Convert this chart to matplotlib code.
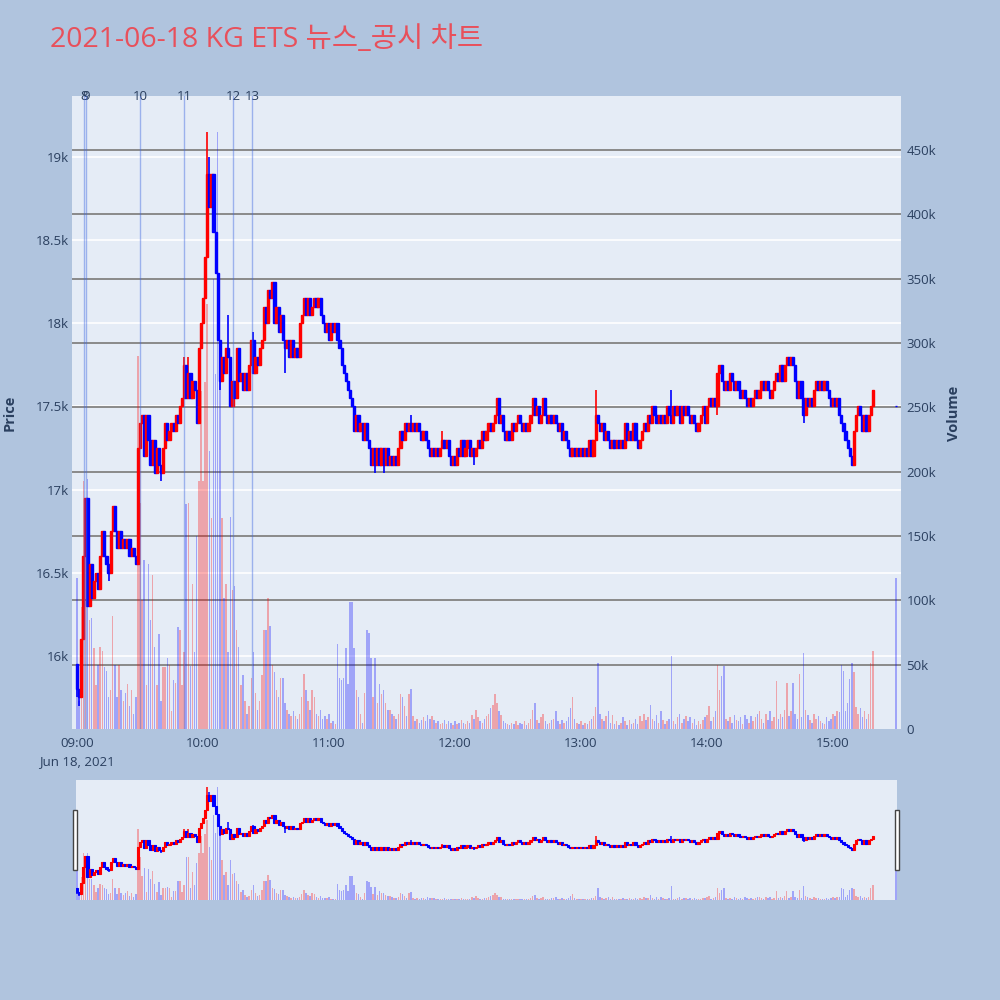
import matplotlib
matplotlib.use("Agg")
import matplotlib.pyplot as plt
from matplotlib.patches import Rectangle
from matplotlib.transforms import blended_transform_factory

plt.rcParams['font.family'] = ['Open Sans', 'Noto Sans CJK KR', 'DejaVu Sans']

title = "2021-06-18 KG ETS 뉴스_공시 차트"

# minutes after 09:00, one candle per minute, plus the 15:30 closing auction
minutes = list(range(380)) + [390]
first_open = 15950
closes = [
    15800, 15750, 16100, 16600, 16950, 16300, 16550, 16350, 16450, 16500,
    16400, 16600, 16750, 16600, 16550, 16500, 16750, 16900, 16750, 16650,
    16750, 16650, 16700, 16650, 16700, 16600, 16650, 16600, 16550, 17250,
    17400, 17450, 17200, 17450, 17300, 17150, 17300, 17100, 17250, 17150,
    17100, 17250, 17400, 17300, 17350, 17400, 17350, 17450, 17400, 17500,
    17550, 17750, 17550, 17700, 17550, 17650, 17600, 17400, 17850, 18000,
    18150, 18400, 18900, 18700, 18900, 18550, 18300, 17900, 17650, 17800,
    17700, 17850, 17800, 17500, 17650, 17550, 17850, 17650, 17700, 17600,
    17700, 17600, 17750, 17900, 17700, 17800, 17750, 17850, 17900, 18100,
    18000, 18200, 18150, 18250, 18000, 18100, 17950, 18050, 17900, 17850,
    17900, 17800, 17900, 17800, 17850, 17800, 18000, 18050, 18150, 18050,
    18150, 18050, 18100, 18150, 18100, 18150, 18050, 18000, 17950, 18000,
    17900, 18000, 17950, 18000, 17900, 17850, 17750, 17700, 17650, 17600,
    17550, 17500, 17350, 17450, 17350, 17400, 17300, 17400, 17300, 17250,
    17150, 17250, 17150, 17250, 17150, 17250, 17150, 17250, 17150, 17200,
    17150, 17200, 17150, 17250, 17350, 17300, 17400, 17350, 17400, 17350,
    17400, 17350, 17400, 17350, 17300, 17350, 17300, 17250, 17200, 17250,
    17200, 17250, 17200, 17250, 17300, 17250, 17300, 17200, 17150, 17200,
    17150, 17250, 17200, 17300, 17200, 17250, 17300, 17200, 17250, 17200,
    17250, 17300, 17250, 17350, 17300, 17350, 17400, 17350, 17400, 17450,
    17550, 17400, 17450, 17350, 17300, 17350, 17300, 17400, 17350, 17400,
    17450, 17400, 17350, 17400, 17350, 17400, 17450, 17550, 17450, 17500,
    17400, 17450, 17550, 17450, 17400, 17450, 17400, 17450, 17400, 17350,
    17400, 17300, 17350, 17300, 17250, 17200, 17250, 17200, 17250, 17200,
    17250, 17200, 17250, 17200, 17300, 17200, 17300, 17450, 17400, 17350,
    17400, 17300, 17350, 17300, 17250, 17300, 17250, 17300, 17250, 17300,
    17250, 17400, 17300, 17350, 17300, 17400, 17300, 17250, 17300, 17350,
    17400, 17350, 17450, 17400, 17500, 17450, 17400, 17450, 17400, 17450,
    17400, 17500, 17450, 17400, 17500, 17450, 17500, 17400, 17500, 17450,
    17500, 17450, 17400, 17450, 17400, 17350, 17400, 17450, 17500, 17400,
    17500, 17550, 17500, 17550, 17500, 17700, 17750, 17650, 17600, 17650,
    17600, 17700, 17650, 17600, 17650, 17600, 17550, 17600, 17550, 17500,
    17550, 17500, 17550, 17600, 17550, 17600, 17650, 17600, 17650, 17600,
    17550, 17600, 17650, 17700, 17650, 17750, 17650, 17750, 17800, 17750,
    17800, 17750, 17650, 17550, 17650, 17550, 17450, 17550, 17500, 17550,
    17500, 17600, 17650, 17600, 17650, 17600, 17650, 17600, 17550, 17500,
    17550, 17500, 17550, 17450, 17400, 17350, 17300, 17250, 17200, 17150,
    17350, 17450, 17500, 17450, 17350, 17450, 17350, 17450, 17500, 17600,
    17500,
]
# opens that differ from the previous close
open_fix = {0: first_open, 380: 17500}
# wicks beyond the body (position in list -> price)
high_fix = {51: 17800, 53: 17800, 62: 19150, 63: 19000, 72: 18050, 84: 17950,
            159: 17450, 174: 17350, 247: 17600, 283: 17600}
low_fix = {0: 15750, 1: 15700, 15: 16450, 40: 17050, 68: 17600, 99: 17700,
           142: 17100, 146: 17100, 189: 17150, 305: 17450, 346: 17400}

# volume in thousands of shares
volume_k = [
    117, 22, 95, 193, 174, 194, 85, 86, 63, 34,
    50, 64, 61, 48, 45, 25, 30, 88, 50, 25,
    50, 30, 22, 28, 35, 18, 30, 12, 25, 290,
    176, 100, 131, 34, 128, 85, 120, 64, 34, 74,
    22, 48, 48, 55, 50, 14, 38, 36, 79, 77,
    34, 60, 175, 176, 49, 113, 60, 150, 193, 263,
    193, 270, 330, 216, 164, 350, 276, 464, 276, 164,
    102, 113, 60, 165, 108, 111, 77, 64, 34, 42,
    22, 12, 18, 40, 60, 28, 15, 22, 42, 77,
    77, 102, 80, 50, 44, 30, 25, 40, 40, 20,
    15, 12, 10, 14, 10, 8, 12, 25, 43, 30,
    22, 15, 30, 25, 12, 10, 15, 8, 10, 8,
    12, 5, 6, 4, 66, 40, 38, 40, 63, 35,
    99, 99, 63, 30, 25, 12, 5, 28, 77, 75,
    55, 25, 55, 20, 35, 27, 30, 20, 15, 15,
    12, 10, 8, 12, 27, 25, 18, 10, 27, 31,
    10, 6, 8, 5, 7, 9, 6, 11, 8, 10,
    7, 5, 6, 4, 5, 7, 4, 6, 5, 3,
    6, 4, 5, 7, 5, 4, 6, 5, 11, 8,
    15, 9, 6, 5, 8, 10, 12, 16, 19, 27,
    20, 14, 11, 6, 5, 4, 3, 5, 4, 6,
    3, 5, 4, 6, 3, 5, 8, 15, 20, 7,
    5, 9, 12, 6, 4, 5, 7, 8, 14, 6,
    4, 7, 5, 6, 9, 16, 25, 8, 5, 4,
    6, 3, 5, 4, 6, 8, 10, 17, 51, 12,
    8, 6, 10, 14, 5, 11, 4, 6, 3, 5,
    9, 6, 3, 7, 4, 5, 8, 4, 10, 6,
    12, 7, 9, 19, 8, 6, 11, 5, 14, 7,
    4, 6, 8, 57, 6, 4, 9, 12, 5, 8,
    10, 6, 9, 5, 8, 3, 6, 4, 7, 9,
    11, 18, 6, 9, 14, 50, 30, 41, 49, 8,
    6, 9, 5, 11, 7, 6, 9, 4, 11, 8,
    5, 10, 6, 9, 12, 14, 8, 5, 12, 7,
    14, 6, 9, 37, 8, 12, 9, 15, 36, 10,
    14, 36, 12, 8, 43, 9, 59, 15, 11, 7,
    5, 12, 8, 10, 6, 5, 4, 9, 6, 8,
    12, 10, 14, 13, 50, 45, 14, 20, 39, 51,
    44, 17, 12, 16, 9, 14, 8, 12, 51, 61,
    117,
]

news_labels = ['8', '9', '10', '11', '12', '13']
news_times = ['09:03:20', '09:04:15', '09:30:00', '09:51:00', '10:14:20', '10:23:20']

hour_ticks = [0, 60, 120, 180, 240, 300, 360]
hour_labels = ['09:00\nJun 18, 2021', '10:00', '11:00', '12:00', '13:00', '14:00', '15:00']
price_ticks = [16000, 16500, 17000, 17500, 18000, 18500, 19000]
vol_ticks = [0, 50, 100, 150, 200, 250, 300, 350, 400, 450]

if len(closes) != len(minutes) or len(volume_k) != len(minutes):
    raise SystemExit(f"length mismatch {len(closes)} {len(volume_k)} {len(minutes)}")

opens = [first_open] + closes[:-1]
for i, v in open_fix.items():
    opens[i] = v
highs = [max(o, c) for o, c in zip(opens, closes)]
lows = [min(o, c) for o, c in zip(opens, closes)]
for i, v in high_fix.items():
    highs[i] = v
for i, v in low_fix.items():
    lows[i] = v
up = [c > o for o, c in zip(opens, closes)]
cols = ['#ff0000' if u else '#0000ff' for u in up]
volume = [v * 1000 for v in volume_k]

news_min = []
for t in news_times:
    h, m, s = [int(p) for p in t.split(':')]
    news_min.append((h - 9) * 60 + m + s / 60)

BG = '#b0c4de'
PLOT_BG = '#e5ecf6'
FONT_C = '#2a3f5f'
W, H = 1000, 1000


def rect(x0, y0, x1, y1):
    return [x0 / W, 1 - y1 / H, (x1 - x0) / W, (y1 - y0) / H]


def draw(axp, axv, body_w, wick_lw, edge_lw, bar_w, show_grid):
    axv.patch.set_visible(True)
    axv.patch.set_facecolor(PLOT_BG)
    axp.patch.set_visible(False)
    axv.set_zorder(1)
    axp.set_zorder(2)
    if show_grid:
        tr = blended_transform_factory(axv.transAxes, axp.transData)
        axv.hlines(price_ticks, 0, 1, transform=tr, colors='white', lw=1.2, zorder=0.3)
        axv.hlines([v * 1000 for v in vol_ticks[1:]], 0, 1,
                   transform=blended_transform_factory(axv.transAxes, axv.transData),
                   colors='#8a8a8a', lw=1.4, zorder=0.4)
    axv.bar(minutes, volume, width=bar_w, color=cols, alpha=0.3, linewidth=0, zorder=1)
    axp.vlines(minutes, lows, highs, colors=cols, lw=wick_lw, zorder=2)
    bottoms = [min(o, c) for o, c in zip(opens, closes)]
    heights = [abs(c - o) for o, c in zip(opens, closes)]
    axp.bar(minutes, heights, bottom=bottoms, width=body_w, color=cols,
            edgecolor=cols, linewidth=edge_lw, zorder=3)
    for a in (axp, axv):
        for s in a.spines.values():
            s.set_visible(False)
    axp.set_ylim(15560, 19367)
    axv.set_ylim(0, 492000)


fig = plt.figure(figsize=(10, 10), dpi=100)
fig.patch.set_facecolor(BG)

# main chart
axp = fig.add_axes(rect(72, 96, 901, 729))
axv = axp.twinx()
draw(axp, axv, 1.05, 1.2, 1.0, 0.7, True)
axp.set_xlim(-2.4, 392.4)

axp.set_xticks(hour_ticks)
axp.set_xticklabels(hour_labels)
for lbl in axp.get_xticklabels():
    lbl.set_linespacing(1.45)
axp.set_yticks(price_ticks)
axp.set_yticklabels([f"{p / 1000:g}k" for p in price_ticks])
axv.set_yticks([v * 1000 for v in vol_ticks])
axv.set_yticklabels(['0' if v == 0 else f"{v}k" for v in vol_ticks])
axp.tick_params(axis='x', length=0, pad=6, labelsize=9.5, labelcolor=FONT_C)
axp.tick_params(axis='y', length=0, pad=2, labelsize=9.5, labelcolor=FONT_C)
axv.tick_params(axis='y', length=0, pad=4, labelsize=9.5, labelcolor=FONT_C)

top_tr = blended_transform_factory(axp.transData, axp.transAxes)
for t, lab in zip(news_min, news_labels):
    axp.axvline(t, color='royalblue', alpha=0.45, lw=1.0, zorder=4)
    axp.text(t, 1.0, lab, transform=top_tr, ha='center', va='center',
             fontsize=9.5, color=FONT_C, clip_on=False)

# range slider
asp = fig.add_axes(rect(76, 780, 897, 900))
asv = asp.twinx()
draw(asp, asv, 1.05, 1.1, 0.8, 0.7, False)
asp.set_xlim(-0.5, 390.5)
for a in (asp, asv):
    a.set_xticks([])
    a.set_yticks([])
for hx in (73, 895):
    fig.add_artist(Rectangle((hx / W, 1 - 870 / H), 4 / W, 60 / H, transform=fig.transFigure,
                             facecolor='white', edgecolor='#444444', lw=1, zorder=10))

fig.text(50 / W, 1 - 40 / H, title, ha='left', va='center', fontsize=20.5, color='#e8505b')
fig.text(10 / W, 1 - 413 / H, 'Price', rotation=90, ha='center', va='center',
         fontsize=10.5, fontweight='bold', color=FONT_C)
fig.text(954 / W, 1 - 413 / H, 'Volume', rotation=90, ha='center', va='center',
         fontsize=10.5, fontweight='bold', color=FONT_C)

fig.savefig('out.png', dpi=100, facecolor=BG)
